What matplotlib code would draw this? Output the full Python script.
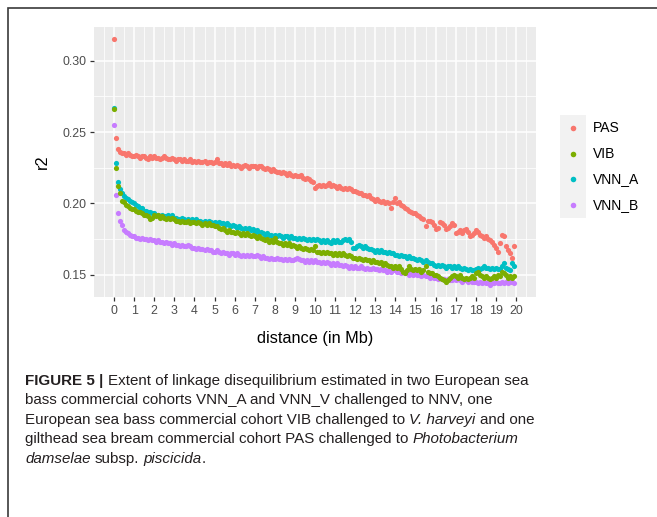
import numpy as np
import matplotlib
matplotlib.use("Agg")
import matplotlib.pyplot as plt
from matplotlib.lines import Line2D
from matplotlib.patches import Rectangle

# distance in Mb, one point every 0.1 Mb
distance = np.arange(200) / 10.0

# r2 values, one row per Mb
pas = [
    0.315, 0.246, 0.238, 0.236, 0.235, 0.235, 0.234, 0.235, 0.234, 0.233,
    0.233, 0.234, 0.233, 0.232, 0.233, 0.233, 0.232, 0.231, 0.233, 0.232,
    0.233, 0.232, 0.232, 0.231, 0.232, 0.233, 0.232, 0.231, 0.231, 0.232,
    0.231, 0.230, 0.231, 0.231, 0.230, 0.231, 0.230, 0.230, 0.231, 0.229,
    0.230, 0.229, 0.230, 0.229, 0.229, 0.230, 0.228, 0.229, 0.229, 0.228,
    0.229, 0.231, 0.228, 0.228, 0.227, 0.228, 0.227, 0.228, 0.226, 0.227,
    0.226, 0.227, 0.226, 0.225, 0.226, 0.227, 0.226, 0.225, 0.226, 0.226,
    0.226, 0.225, 0.226, 0.226, 0.225, 0.224, 0.225, 0.224, 0.223, 0.224,
    0.223, 0.222, 0.222, 0.221, 0.222, 0.221, 0.220, 0.221, 0.220, 0.219,
    0.220, 0.219, 0.219, 0.220, 0.218, 0.217, 0.218, 0.217, 0.216, 0.215,
    0.211, 0.212, 0.213, 0.212, 0.213, 0.212, 0.213, 0.214, 0.212, 0.213,
    0.212, 0.211, 0.212, 0.211, 0.210, 0.211, 0.210, 0.211, 0.210, 0.209,
    0.209, 0.208, 0.207, 0.207, 0.206, 0.206, 0.205, 0.206, 0.204, 0.203,
    0.202, 0.203, 0.202, 0.201, 0.202, 0.200, 0.201, 0.200, 0.197, 0.201,
    0.204, 0.200, 0.201, 0.199, 0.198, 0.197, 0.196, 0.195, 0.194, 0.193,
    0.193, 0.192, 0.191, 0.190, 0.189, 0.184, 0.188, 0.188, 0.187, 0.185,
    0.182, 0.183, 0.187, 0.186, 0.185, 0.182, 0.183, 0.184, 0.186, 0.185,
    0.179, 0.180, 0.181, 0.179, 0.181, 0.182, 0.180, 0.177, 0.178, 0.179,
    0.181, 0.180, 0.178, 0.177, 0.176, 0.177, 0.175, 0.174, 0.173, 0.171,
    0.169, 0.166, 0.172, 0.178, 0.177, 0.170, 0.167, 0.165, 0.162, 0.170,
]
vib = [
    0.266, 0.225, 0.212, 0.207, 0.202, 0.201, 0.199, 0.198, 0.197, 0.196,
    0.196, 0.195, 0.194, 0.194, 0.193, 0.192, 0.192, 0.191, 0.189, 0.190,
    0.192, 0.191, 0.192, 0.190, 0.191, 0.190, 0.189, 0.190, 0.189, 0.190,
    0.189, 0.188, 0.188, 0.187, 0.188, 0.187, 0.187, 0.188, 0.186, 0.187,
    0.187, 0.186, 0.187, 0.186, 0.185, 0.186, 0.185, 0.186, 0.185, 0.185,
    0.184, 0.184, 0.183, 0.182, 0.183, 0.181, 0.180, 0.181, 0.180, 0.180,
    0.179, 0.180, 0.179, 0.178, 0.179, 0.178, 0.179, 0.178, 0.177, 0.178,
    0.177, 0.176, 0.177, 0.176, 0.175, 0.174, 0.175, 0.173, 0.174, 0.173,
    0.176, 0.173, 0.172, 0.172, 0.171, 0.172, 0.171, 0.172, 0.170, 0.171,
    0.170, 0.169, 0.170, 0.169, 0.168, 0.169, 0.168, 0.167, 0.168, 0.167,
    0.170, 0.166, 0.166, 0.165, 0.166, 0.165, 0.166, 0.165, 0.165, 0.164,
    0.165, 0.164, 0.165, 0.164, 0.165, 0.164, 0.163, 0.164, 0.163, 0.162,
    0.162, 0.161, 0.162, 0.161, 0.160, 0.161, 0.160, 0.160, 0.159, 0.160,
    0.159, 0.159, 0.158, 0.159, 0.157, 0.158, 0.157, 0.156, 0.156, 0.155,
    0.156, 0.155, 0.156, 0.154, 0.152, 0.151, 0.153, 0.156, 0.154, 0.153,
    0.154, 0.153, 0.154, 0.152, 0.153, 0.156, 0.152, 0.151, 0.151, 0.150,
    0.150, 0.149, 0.148, 0.147, 0.146, 0.145, 0.146, 0.148, 0.149, 0.150,
    0.149, 0.148, 0.150, 0.148, 0.147, 0.148, 0.147, 0.148, 0.149, 0.148,
    0.151, 0.152, 0.150, 0.149, 0.148, 0.149, 0.148, 0.147, 0.148, 0.149,
    0.148, 0.150, 0.149, 0.152, 0.151, 0.150, 0.148, 0.149, 0.148, 0.149,
]
vnn_a = [
    0.267, 0.228, 0.215, 0.210, 0.207, 0.205, 0.204, 0.203, 0.202, 0.201,
    0.200, 0.199, 0.198, 0.197, 0.197, 0.195, 0.195, 0.194, 0.194, 0.193,
    0.193, 0.192, 0.192, 0.191, 0.192, 0.191, 0.191, 0.192, 0.190, 0.192,
    0.190, 0.190, 0.189, 0.189, 0.190, 0.189, 0.188, 0.189, 0.188, 0.189,
    0.188, 0.189, 0.188, 0.188, 0.187, 0.188, 0.187, 0.188, 0.187, 0.186,
    0.187, 0.186, 0.187, 0.186, 0.186, 0.185, 0.186, 0.185, 0.184, 0.185,
    0.184, 0.183, 0.184, 0.183, 0.182, 0.183, 0.182, 0.183, 0.181, 0.182,
    0.180, 0.181, 0.179, 0.180, 0.179, 0.178, 0.179, 0.178, 0.178, 0.177,
    0.178, 0.177, 0.178, 0.177, 0.176, 0.177, 0.177, 0.176, 0.177, 0.176,
    0.176, 0.175, 0.176, 0.175, 0.176, 0.175, 0.174, 0.175, 0.174, 0.175,
    0.174, 0.175, 0.174, 0.173, 0.174, 0.173, 0.174, 0.173, 0.172, 0.174,
    0.173, 0.174, 0.173, 0.173, 0.174, 0.175, 0.174, 0.175, 0.173, 0.169,
    0.169, 0.170, 0.171, 0.170, 0.169, 0.170, 0.169, 0.168, 0.168, 0.167,
    0.166, 0.167, 0.166, 0.167, 0.166, 0.166, 0.165, 0.166, 0.165, 0.165,
    0.164, 0.164, 0.163, 0.164, 0.163, 0.163, 0.162, 0.163, 0.162, 0.162,
    0.161, 0.160, 0.161, 0.160, 0.159, 0.160, 0.159, 0.158, 0.158, 0.157,
    0.156, 0.157, 0.156, 0.157, 0.156, 0.155, 0.156, 0.156, 0.155, 0.156,
    0.155, 0.156, 0.155, 0.154, 0.155, 0.154, 0.153, 0.154, 0.153, 0.153,
    0.154, 0.155, 0.154, 0.155, 0.156, 0.155, 0.155, 0.154, 0.155, 0.154,
    0.155, 0.154, 0.154, 0.156, 0.158, 0.155, 0.154, 0.153, 0.158, 0.156,
]
vnn_b = [
    0.255, 0.206, 0.193, 0.188, 0.185, 0.181, 0.180, 0.179, 0.178, 0.177,
    0.177, 0.176, 0.176, 0.175, 0.176, 0.175, 0.175, 0.174, 0.175, 0.174,
    0.174, 0.173, 0.174, 0.173, 0.173, 0.172, 0.173, 0.172, 0.172, 0.171,
    0.172, 0.171, 0.171, 0.170, 0.171, 0.170, 0.170, 0.171, 0.170, 0.169,
    0.169, 0.168, 0.169, 0.168, 0.168, 0.167, 0.168, 0.167, 0.167, 0.166,
    0.166, 0.167, 0.166, 0.165, 0.166, 0.165, 0.165, 0.164, 0.165, 0.165,
    0.164, 0.165, 0.164, 0.163, 0.164, 0.163, 0.164, 0.163, 0.164, 0.163,
    0.163, 0.164, 0.163, 0.162, 0.163, 0.162, 0.162, 0.161, 0.162, 0.161,
    0.161, 0.162, 0.161, 0.161, 0.160, 0.161, 0.160, 0.161, 0.160, 0.160,
    0.161, 0.162, 0.161, 0.160, 0.160, 0.159, 0.160, 0.159, 0.160, 0.159,
    0.160, 0.159, 0.159, 0.158, 0.159, 0.158, 0.159, 0.158, 0.157, 0.158,
    0.157, 0.158, 0.157, 0.157, 0.156, 0.157, 0.156, 0.155, 0.156, 0.155,
    0.156, 0.155, 0.155, 0.156, 0.155, 0.154, 0.155, 0.154, 0.154, 0.155,
    0.154, 0.154, 0.153, 0.154, 0.153, 0.153, 0.152, 0.153, 0.152, 0.153,
    0.153, 0.152, 0.152, 0.151, 0.152, 0.151, 0.151, 0.150, 0.151, 0.150,
    0.151, 0.150, 0.150, 0.149, 0.150, 0.149, 0.149, 0.148, 0.149, 0.148,
    0.148, 0.147, 0.148, 0.147, 0.147, 0.146, 0.147, 0.146, 0.146, 0.147,
    0.146, 0.147, 0.146, 0.145, 0.146, 0.146, 0.145, 0.146, 0.145, 0.145,
    0.145, 0.144, 0.145, 0.144, 0.145, 0.144, 0.144, 0.143, 0.144, 0.144,
    0.145, 0.144, 0.144, 0.145, 0.144, 0.145, 0.144, 0.145, 0.145, 0.144,
]

names = ["PAS", "VIB", "VNN_A", "VNN_B"]
values = [pas, vib, vnn_a, vnn_b]
colors = ["#F8766D", "#7CAE00", "#00BFC4", "#C77CFF"]
draw_order = [0, 3, 2, 1]

xticks = list(range(0, 21))
yticks = [0.15, 0.20, 0.25, 0.30]

W, H = 657, 517
FONT = "Liberation Sans"
plt.rcParams["font.family"] = [FONT, "DejaVu Sans"]

fig = plt.figure(figsize=(W / 100, H / 100), dpi=100)

def fx(px):
    return px / W

def fy(py):
    return 1 - py / H

# outer frame (only left and top edges fall inside the picture)
fig.add_artist(Rectangle((fx(8), fy(H + 20)), fx(W + 20), fy(8) - fy(H + 20),
                         transform=fig.transFigure, fill=False,
                         edgecolor="#3a3a3a", linewidth=1.2))

# panel
left, right, top, bottom = 94, 536, 27, 297
ax = fig.add_axes([fx(left), fy(bottom), fx(right - left), fy(top) - fy(bottom)])
ax.set_facecolor("#EBEBEB")
for s in ax.spines.values():
    s.set_visible(False)

for i in draw_order:
    ax.scatter(distance, values[i], s=14, color=colors[i], linewidths=0, zorder=3)

ymin = min(min(v) for v in values)
ymax = max(max(v) for v in values)
pad = (ymax - ymin) * 0.05
ax.set_ylim(ymin - pad, ymax + pad)
ax.set_xlim(-1, 21)

ax.set_xticks(xticks)
ax.set_xticklabels([str(t) for t in xticks])
ax.set_yticks(yticks)
ax.set_yticklabels(["%.2f" % t for t in yticks])
ax.set_xticks(np.arange(-0.5, 21, 1.0), minor=True)
ax.set_yticks([0.175, 0.225, 0.275], minor=True)
ax.grid(which="major", color="white", linewidth=1.1, zorder=0)
ax.grid(which="minor", color="white", linewidth=0.55, zorder=0)
ax.set_axisbelow(True)
ax.tick_params(which="major", length=3, width=0.9, color="#333333",
               labelcolor="#4D4D4D", labelsize=8.9, pad=2.5)
ax.tick_params(which="minor", length=0)

ax.set_xlabel("distance (in Mb)", fontsize=11.7, color="black", labelpad=10)
ax.set_ylabel("r2", fontsize=11.7, color="black", labelpad=9)

# legend drawn by hand, ggplot style
key_x = 573
key_y0, key_dy = 127.7, 25.8
fig.add_artist(Rectangle((fx(560), fy(218)), fx(26), fy(115) - fy(218),
                         transform=fig.transFigure, facecolor="#F2F2F2",
                         edgecolor="none"))
for k, (name, col) in enumerate(zip(names, colors)):
    yk = key_y0 + k * key_dy
    fig.add_artist(Line2D([fx(key_x)], [fy(yk)], marker="o", markersize=4,
                          markerfacecolor=col, markeredgewidth=0,
                          linestyle="none", transform=fig.transFigure))
    fig.text(fx(593), fy(yk), name, fontsize=10, color="black",
             va="center", ha="left")

# caption with mixed styles
cap_size = 10.9
cap_color = "#231F20"
caption = [
    [("FIGURE 5 |", "bold"), (" Extent of linkage disequilibrium estimated in two European sea", "normal")],
    [("bass commercial cohorts VNN_A and VNN_V challenged to NNV, one", "normal")],
    [("European sea bass commercial cohort VIB challenged to ", "normal"),
     ("V. harveyi", "italic"), (" and one", "normal")],
    [("gilthead sea bream commercial cohort PAS challenged to ", "normal"),
     ("Photobacterium", "italic")],
    [("damselae", "italic"), (" subsp. ", "normal"), ("piscicida", "italic"), (".", "normal")],
]

renderer = fig.canvas.get_renderer()

def text_width(s, style):
    t = fig.text(0, 0, s, fontsize=cap_size,
                 fontweight="bold" if style == "bold" else "normal",
                 fontstyle="italic" if style == "italic" else "normal")
    w = t.get_window_extent(renderer).width
    t.remove()
    return w

space_w = text_width("x x", "normal") - text_width("xx", "normal")

line_y0, line_dy = 379, 19.6
for j, runs in enumerate(caption):
    x = 25
    y = line_y0 + j * line_dy
    for s, style in runs:
        lead = len(s) - len(s.lstrip(" "))
        trail = len(s) - len(s.rstrip(" "))
        core = s.strip(" ")
        x += lead * space_w
        if core:
            t = fig.text(fx(x), fy(y), core, fontsize=cap_size, color=cap_color,
                         fontweight="bold" if style == "bold" else "normal",
                         fontstyle="italic" if style == "italic" else "normal",
                         va="center_baseline", ha="left")
            x += t.get_window_extent(renderer).width
        x += trail * space_w

fig.savefig("out.png", dpi=100)
